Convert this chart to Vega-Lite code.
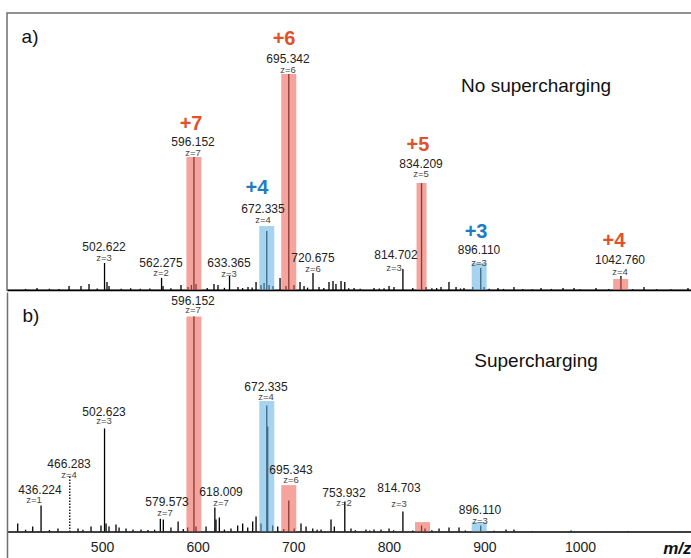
{
  "$schema": "https://vega.github.io/schema/vega-lite/v6.json",
  "padding": {"left": 6, "top": 12, "right": 0, "bottom": 0},
  "background": "white",
  "spacing": 0,
  "config": {"view": {"stroke": null}, "font": "Liberation Sans", "axis": {"labelFont": "Liberation Sans", "titleFont": "Liberation Sans"}},
  "resolve": {"scale": {"x": "independent", "y": "independent"}},
  "datasets": {
    "peaksA": [
      {"mz": 502.622, "i": 12.5}, {"mz": 562.275, "i": 5.6}, {"mz": 596.152, "i": 61.6}, {"mz": 633.365, "i": 6.5},
      {"mz": 672.335, "i": 27.3}, {"mz": 695.342, "i": 100}, {"mz": 720.675, "i": 7.9}, {"mz": 814.702, "i": 9.7},
      {"mz": 834.209, "i": 49.5}, {"mz": 896.11, "i": 10.2}, {"mz": 1042.76, "i": 6.5},
      {"mz": 420, "i": 0.5}, {"mz": 432.0, "i": 0.9}, {"mz": 445, "i": 0.6}, {"mz": 455, "i": 0.5}, {"mz": 465.5, "i": 1.9},
      {"mz": 478.0, "i": 1.9}, {"mz": 486.4, "i": 2.8}, {"mz": 495, "i": 0.7}, {"mz": 505.2, "i": 3.7}, {"mz": 507.3, "i": 1.9},
      {"mz": 520, "i": 0.6}, {"mz": 530, "i": 0.8}, {"mz": 540, "i": 0.6}, {"mz": 550, "i": 0.7}, {"mz": 563.8, "i": 1.9},
      {"mz": 572, "i": 0.8}, {"mz": 582.6, "i": 2.3}, {"mz": 590.0, "i": 1.4}, {"mz": 593.5, "i": 2.3}, {"mz": 598.3, "i": 2.8},
      {"mz": 610, "i": 0.9}, {"mz": 617.1, "i": 2.8}, {"mz": 621.3, "i": 2.3}, {"mz": 628, "i": 1.0}, {"mz": 642.2, "i": 1.4},
      {"mz": 647, "i": 0.9}, {"mz": 652.7, "i": 1.4}, {"mz": 657, "i": 1.2}, {"mz": 661.1, "i": 3.7}, {"mz": 666.3, "i": 2.3},
      {"mz": 669.5, "i": 3.2}, {"mz": 674.7, "i": 2.3}, {"mz": 678.8, "i": 1.9}, {"mz": 686.2, "i": 5.6}, {"mz": 692.4, "i": 1.9},
      {"mz": 700.8, "i": 2.3}, {"mz": 707.1, "i": 3.7}, {"mz": 711.3, "i": 1.9}, {"mz": 715, "i": 1.1}, {"mz": 727.0, "i": 1.4},
      {"mz": 732, "i": 0.9}, {"mz": 737.4, "i": 3.7}, {"mz": 741.6, "i": 4.2}, {"mz": 744.7, "i": 2.8}, {"mz": 750.0, "i": 4.2},
      {"mz": 753.9, "i": 3.7}, {"mz": 758, "i": 0.8}, {"mz": 763.6, "i": 0.9}, {"mz": 770, "i": 0.6}, {"mz": 784.5, "i": 0.9},
      {"mz": 790, "i": 0.7}, {"mz": 795, "i": 0.8}, {"mz": 800.2, "i": 1.9}, {"mz": 805.4, "i": 1.4}, {"mz": 825, "i": 0.9},
      {"mz": 838.9, "i": 1.4}, {"mz": 845, "i": 0.8}, {"mz": 850, "i": 0.9}, {"mz": 854.6, "i": 1.4}, {"mz": 862.9, "i": 3.7},
      {"mz": 870.3, "i": 1.4}, {"mz": 875, "i": 0.7}, {"mz": 878.6, "i": 0.9}, {"mz": 887.7, "i": 1.4}, {"mz": 899.5, "i": 1.4},
      {"mz": 905, "i": 0.6}, {"mz": 914.2, "i": 0.9}, {"mz": 920, "i": 0.5}, {"mz": 930.9, "i": 1.4}, {"mz": 940, "i": 0.5},
      {"mz": 950, "i": 0.4}, {"mz": 959.2, "i": 0.9}, {"mz": 970, "i": 0.5}, {"mz": 982.2, "i": 0.9}, {"mz": 993.7, "i": 0.9},
      {"mz": 1000, "i": 0.4}, {"mz": 1016.7, "i": 0.9}, {"mz": 1030, "i": 0.5}, {"mz": 1055, "i": 0.4}, {"mz": 1066.9, "i": 1.4},
      {"mz": 1080, "i": 0.4}, {"mz": 1095, "i": 0.4}, {"mz": 1112.9, "i": 0.9}
    ],
    "peaksB": [
      {"mz": 436.224, "i": 12.1}, {"mz": 466.283, "i": 25.6}, {"mz": 502.623, "i": 47.9}, {"mz": 579.573, "i": 4.7},
      {"mz": 596.152, "i": 100}, {"mz": 618.009, "i": 11.2}, {"mz": 672.335, "i": 58.6}, {"mz": 673.3, "i": 48.8},
      {"mz": 695.343, "i": 14.4}, {"mz": 753.932, "i": 14.0}, {"mz": 814.703, "i": 9.3}, {"mz": 834.2, "i": 2.8},
      {"mz": 896.11, "i": 2.8},
      {"mz": 411.8, "i": 3.7}, {"mz": 420, "i": 0.8}, {"mz": 427.5, "i": 2.3}, {"mz": 445, "i": 0.7}, {"mz": 453.9, "i": 1.4},
      {"mz": 474.9, "i": 1.4}, {"mz": 480, "i": 0.8}, {"mz": 488.5, "i": 2.3}, {"mz": 498.9, "i": 2.8}, {"mz": 504.2, "i": 3.7},
      {"mz": 507.3, "i": 2.3}, {"mz": 514.6, "i": 3.3}, {"mz": 517.8, "i": 1.9}, {"mz": 525.1, "i": 1.4}, {"mz": 532.4, "i": 0.9},
      {"mz": 540.8, "i": 0.9}, {"mz": 548, "i": 0.7}, {"mz": 555, "i": 0.8}, {"mz": 561.0, "i": 6.0}, {"mz": 564.1, "i": 5.6},
      {"mz": 572.1, "i": 1.9}, {"mz": 585, "i": 1.2}, {"mz": 589.6, "i": 1.9}, {"mz": 598.3, "i": 2.3}, {"mz": 608.8, "i": 2.3},
      {"mz": 619.2, "i": 5.6}, {"mz": 622.7, "i": 6.5}, {"mz": 628, "i": 1.0}, {"mz": 634.9, "i": 1.4}, {"mz": 641.9, "i": 2.8},
      {"mz": 647.1, "i": 3.7}, {"mz": 652.4, "i": 1.9}, {"mz": 657.6, "i": 4.7}, {"mz": 661.1, "i": 7.0}, {"mz": 666.3, "i": 3.7},
      {"mz": 678.5, "i": 2.8}, {"mz": 683.8, "i": 2.3}, {"mz": 690, "i": 1.2}, {"mz": 701.1, "i": 1.4}, {"mz": 708.1, "i": 3.7},
      {"mz": 713.4, "i": 2.3}, {"mz": 720.4, "i": 1.4}, {"mz": 725, "i": 0.8}, {"mz": 729.1, "i": 0.9}, {"mz": 739.5, "i": 5.6},
      {"mz": 743.0, "i": 2.3}, {"mz": 760.4, "i": 1.4}, {"mz": 765, "i": 0.6}, {"mz": 776.1, "i": 0.9}, {"mz": 780, "i": 0.5},
      {"mz": 784.5, "i": 0.9}, {"mz": 791.8, "i": 0.9}, {"mz": 800.2, "i": 1.4}, {"mz": 805, "i": 0.6}, {"mz": 825, "i": 0.5},
      {"mz": 837.8, "i": 1.4}, {"mz": 845, "i": 0.6}, {"mz": 852.5, "i": 1.4}, {"mz": 862.9, "i": 1.9}, {"mz": 873.4, "i": 1.9},
      {"mz": 880, "i": 0.5}, {"mz": 910, "i": 0.4}, {"mz": 922.6, "i": 0.9}, {"mz": 930.9, "i": 0.9}, {"mz": 950, "i": 0.3},
      {"mz": 990.6, "i": 0.5}, {"mz": 1050, "i": 0.3}
    ],
    "barsA": [
      {"mz": 596.152, "i": 61.6, "group": "P1"},
      {"mz": 695.342, "i": 100, "group": "P1"},
      {"mz": 672.335, "i": 29.6, "group": "P2"},
      {"mz": 834.209, "i": 49.5, "group": "P1"},
      {"mz": 894.5, "i": 12.5, "group": "P2"},
      {"mz": 1042.5, "i": 5.1, "group": "P1"}
    ],
    "barsB": [
      {"mz": 596.152, "i": 100, "group": "P1"},
      {"mz": 672.335, "i": 60.7, "group": "P2"},
      {"mz": 695.343, "i": 21.6, "group": "P1"},
      {"mz": 835.2, "i": 4.4, "group": "P1"},
      {"mz": 894.5, "i": 4.4, "group": "P2"}
    ],
    "labelsA": [
      {"mz": 424.7, "y": 117.1, "text": "a)", "kind": "panel", "group": "none"},
      {"mz": 954.0, "y": 94.4, "text": "No supercharging", "kind": "title", "group": "none"},
      {"mz": 690.4, "y": 116.2, "text": "+6", "kind": "charge", "group": "P1"},
      {"mz": 593.1, "y": 76.9, "text": "+7", "kind": "charge", "group": "P1"},
      {"mz": 662.1, "y": 47.2, "text": "+4", "kind": "charge", "group": "P2"},
      {"mz": 830.5, "y": 67.1, "text": "+5", "kind": "charge", "group": "P1"},
      {"mz": 891.2, "y": 26.9, "text": "+3", "kind": "charge", "group": "P2"},
      {"mz": 1035.5, "y": 22.7, "text": "+4", "kind": "charge", "group": "P1"},
      {"mz": 694.5, "y": 107.1, "text": "695.342", "kind": "mass", "group": "none"},
      {"mz": 694.5, "y": 101.7, "text": "z=6", "kind": "z", "group": "none"},
      {"mz": 595.2, "y": 68.3, "text": "596.152", "kind": "mass", "group": "none"},
      {"mz": 595.2, "y": 63.2, "text": "z=7", "kind": "z", "group": "none"},
      {"mz": 668.4, "y": 37.7, "text": "672.335", "kind": "mass", "group": "none"},
      {"mz": 668.4, "y": 32.2, "text": "z=4", "kind": "z", "group": "none"},
      {"mz": 502.1, "y": 20.1, "text": "502.622", "kind": "mass", "group": "none"},
      {"mz": 502.1, "y": 14.6, "text": "z=3", "kind": "z", "group": "none"},
      {"mz": 561.7, "y": 12.7, "text": "562.275", "kind": "mass", "group": "none"},
      {"mz": 561.7, "y": 7.7, "text": "z=2", "kind": "z", "group": "none"},
      {"mz": 632.8, "y": 12.7, "text": "633.365", "kind": "mass", "group": "none"},
      {"mz": 632.8, "y": 7.2, "text": "z=3", "kind": "z", "group": "none"},
      {"mz": 720.7, "y": 15.0, "text": "720.675", "kind": "mass", "group": "none"},
      {"mz": 720.7, "y": 9.5, "text": "z=6", "kind": "z", "group": "none"},
      {"mz": 833.7, "y": 58.5, "text": "834.209", "kind": "mass", "group": "none"},
      {"mz": 833.7, "y": 53.5, "text": "z=5", "kind": "z", "group": "none"},
      {"mz": 807.5, "y": 16.4, "text": "814.702", "kind": "mass", "group": "none"},
      {"mz": 805.4, "y": 10.4, "text": "z=3", "kind": "z", "group": "none"},
      {"mz": 894.3, "y": 18.3, "text": "896.110", "kind": "mass", "group": "none"},
      {"mz": 894.3, "y": 12.3, "text": "z=3", "kind": "z", "group": "none"},
      {"mz": 1041.8, "y": 14.1, "text": "1042.760", "kind": "mass", "group": "none"},
      {"mz": 1041.8, "y": 8.1, "text": "z=4", "kind": "z", "group": "none"}
    ],
    "labelsB": [
      {"mz": 425.7, "y": 100.2, "text": "b)", "kind": "panel", "group": "none"},
      {"mz": 954.0, "y": 79.3, "text": "Supercharging", "kind": "title", "group": "none"},
      {"mz": 595.2, "y": 107.4, "text": "596.152", "kind": "mass", "group": "none"},
      {"mz": 595.2, "y": 102.8, "text": "z=7", "kind": "z", "group": "none"},
      {"mz": 671.5, "y": 67.4, "text": "672.335", "kind": "mass", "group": "none"},
      {"mz": 671.5, "y": 62.4, "text": "z=4", "kind": "z", "group": "none"},
      {"mz": 502.1, "y": 55.8, "text": "502.623", "kind": "mass", "group": "none"},
      {"mz": 502.1, "y": 51.2, "text": "z=3", "kind": "z", "group": "none"},
      {"mz": 465.5, "y": 31.6, "text": "466.283", "kind": "mass", "group": "none"},
      {"mz": 465.5, "y": 26.1, "text": "z=4", "kind": "z", "group": "none"},
      {"mz": 435.1, "y": 19.5, "text": "436.224", "kind": "mass", "group": "none"},
      {"mz": 428.8, "y": 14.5, "text": "z=1", "kind": "z", "group": "none"},
      {"mz": 568.0, "y": 13.9, "text": "579.573", "kind": "mass", "group": "none"},
      {"mz": 565.9, "y": 8.4, "text": "z=7", "kind": "z", "group": "none"},
      {"mz": 624.5, "y": 18.6, "text": "618.009", "kind": "mass", "group": "none"},
      {"mz": 624.5, "y": 13.1, "text": "z=7", "kind": "z", "group": "none"},
      {"mz": 697.7, "y": 28.8, "text": "695.343", "kind": "mass", "group": "none"},
      {"mz": 697.7, "y": 23.8, "text": "z=6", "kind": "z", "group": "none"},
      {"mz": 753.1, "y": 18.1, "text": "753.932", "kind": "mass", "group": "none"},
      {"mz": 753.1, "y": 13.1, "text": "z=2", "kind": "z", "group": "none"},
      {"mz": 810.6, "y": 20.4, "text": "814.703", "kind": "mass", "group": "none"},
      {"mz": 810.6, "y": 12.6, "text": "z=3", "kind": "z", "group": "none"},
      {"mz": 895.4, "y": 10.2, "text": "896.110", "kind": "mass", "group": "none"},
      {"mz": 895.4, "y": 5.1, "text": "z=3", "kind": "z", "group": "none"}
    ]
  },
  "vconcat": [
    {
      "width": 685,
      "height": 277,
      "view": {"stroke": "#6f6f6f", "strokeWidth": 1.5},
      "encoding": {
        "x": {"field": "mz", "type": "quantitative", "scale": {"domain": [400.6, 1117.1], "nice": false, "zero": false, "padding": 0},
              "axis": {"orient": "bottom", "labels": false, "ticks": false, "grid": false, "title": null, "domainColor": "#000000", "domainWidth": 1.3}}
      },
      "layer": [
        {
          "data": {"name": "peaksA"},
          "mark": {"type": "rule", "color": "#000000", "strokeWidth": 1.3},
          "encoding": {
            "y": {"field": "i", "type": "quantitative", "scale": {"domain": [0, 128.2], "nice": false, "padding": 0}, "axis": null},
            "y2": {"datum": 0}
          }
        },
        {
          "data": {"name": "barsA"},
          "mark": {"type": "bar", "opacity": 0.58},
          "encoding": {
            "y": {"field": "i", "type": "quantitative"},
            "y2": {"datum": 0},
            "size": {"condition": {"test": "datum.mz > 830 && datum.mz < 840", "value": 10}, "value": 15},
            "color": {"field": "group", "type": "nominal", "scale": {"domain": ["P1", "P2"], "range": ["#EC6254", "#66B3E2"]}, "legend": null}
          }
        },
        {
          "data": {"name": "labelsA"},
          "transform": [{"filter": "datum.kind === 'charge'"}],
          "mark": {"type": "text", "fontSize": 20, "fontWeight": "bold", "baseline": "middle", "align": "center"},
          "encoding": {
            "y": {"field": "y", "type": "quantitative"},
            "text": {"field": "text"},
            "color": {"condition": {"test": "datum.group === 'P2'", "value": "#1F7CC2"}, "value": "#E2502C"}
          }
        },
        {
          "data": {"name": "labelsA"},
          "transform": [{"filter": "datum.kind === 'mass'"}],
          "mark": {"type": "text", "fontSize": 12, "baseline": "middle", "align": "center", "color": "#222222"},
          "encoding": {"y": {"field": "y", "type": "quantitative"}, "text": {"field": "text"}}
        },
        {
          "data": {"name": "labelsA"},
          "transform": [{"filter": "datum.kind === 'z'"}],
          "mark": {"type": "text", "fontSize": 9.5, "baseline": "middle", "align": "center", "color": "#444444"},
          "encoding": {"y": {"field": "y", "type": "quantitative"}, "text": {"field": "text"}}
        },
        {
          "data": {"name": "labelsA"},
          "transform": [{"filter": "datum.kind === 'title' || datum.kind === 'panel'"}],
          "mark": {"type": "text", "fontSize": 19, "baseline": "middle", "align": "center", "color": "#111111"},
          "encoding": {"y": {"field": "y", "type": "quantitative"}, "text": {"field": "text"}}
        }
      ]
    },
    {
      "width": 685,
      "height": 269,
      "encoding": {
        "x": {"field": "mz", "type": "quantitative", "scale": {"domain": [400.6, 1117.1], "nice": false, "zero": false, "padding": 0},
              "axis": {"orient": "bottom", "offset": -29.5, "values": [500, 600, 700, 800, 900, 1000], "format": "d", "ticks": false, "grid": false,
                       "labelFontSize": 14, "labelColor": "#222222", "labelPadding": 9, "domainColor": "#000000", "domainWidth": 1.3,
                       "title": "m/z", "titleFontStyle": "italic", "titleFontWeight": "bold", "titleFontSize": 17, "titleColor": "#111111",
                       "titleAngle": 0, "titleAlign": "right", "titleBaseline": "alphabetic", "titleX": 684, "titleY": 22}}
      },
      "layer": [
        {
          "data": {"name": "peaksB"},
          "mark": {"type": "rule", "color": "#000000", "strokeWidth": 1.3},
          "encoding": {
            "y": {"field": "i", "type": "quantitative", "scale": {"domain": [-13.7, 111.4], "nice": false, "zero": false, "padding": 0},
                  "axis": {"orient": "left", "labels": false, "ticks": false, "grid": false, "title": null, "domainColor": "#6f6f6f", "domainWidth": 1.5}},
            "y2": {"datum": 0},
            "strokeDash": {"condition": {"test": "datum.mz === 466.283", "value": [1.5, 1.5]}, "value": [1, 0]}
          }
        },
        {
          "data": {"name": "barsB"},
          "mark": {"type": "bar", "opacity": 0.58},
          "encoding": {
            "y": {"field": "i", "type": "quantitative"},
            "y2": {"datum": 0},
            "size": {"value": 15},
            "color": {"field": "group", "type": "nominal", "scale": {"domain": ["P1", "P2"], "range": ["#EC6254", "#66B3E2"]}, "legend": null}
          }
        },
        {
          "data": {"name": "labelsB"},
          "transform": [{"filter": "datum.kind === 'mass'"}],
          "mark": {"type": "text", "fontSize": 12, "baseline": "middle", "align": "center", "color": "#222222"},
          "encoding": {"y": {"field": "y", "type": "quantitative"}, "text": {"field": "text"}}
        },
        {
          "data": {"name": "labelsB"},
          "transform": [{"filter": "datum.kind === 'z'"}],
          "mark": {"type": "text", "fontSize": 9.5, "baseline": "middle", "align": "center", "color": "#444444"},
          "encoding": {"y": {"field": "y", "type": "quantitative"}, "text": {"field": "text"}}
        },
        {
          "data": {"name": "labelsB"},
          "transform": [{"filter": "datum.kind === 'title' || datum.kind === 'panel'"}],
          "mark": {"type": "text", "fontSize": 19, "baseline": "middle", "align": "center", "color": "#111111"},
          "encoding": {"y": {"field": "y", "type": "quantitative"}, "text": {"field": "text"}}
        }
      ]
    }
  ]
}
